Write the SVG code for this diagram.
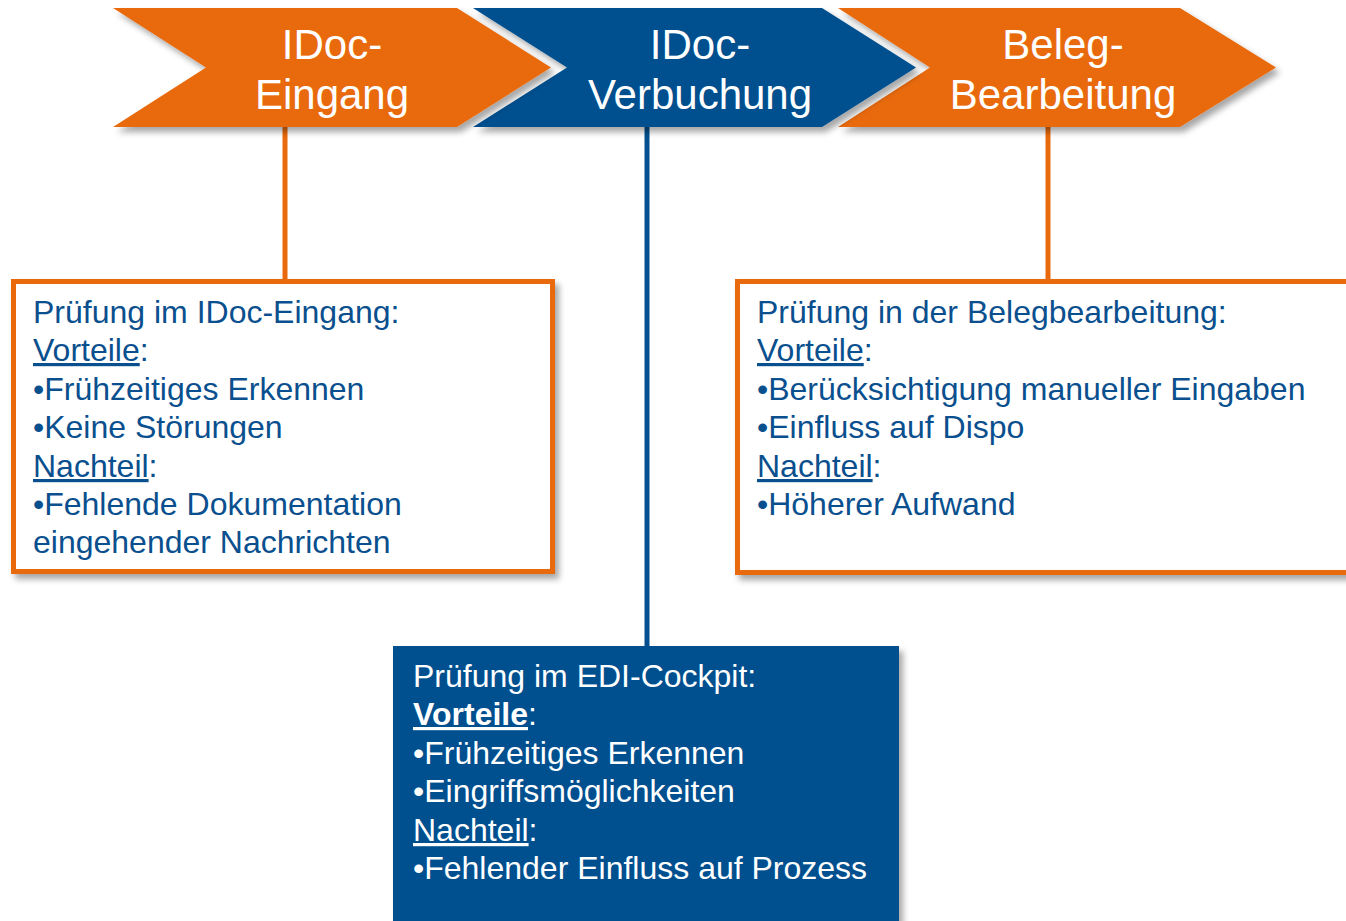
<svg xmlns="http://www.w3.org/2000/svg" width="1346" height="921" viewBox="0 0 1346 921">
<defs>
<filter id="sh" x="-10%" y="-10%" width="130%" height="140%">
<feDropShadow dx="4" dy="5" stdDeviation="3" flood-color="#000" flood-opacity="0.35"/>
</filter>
<style>
.orange{fill:#E96A0C}
.blue{fill:#02508F}
.title{font-family:"Liberation Sans",Arial,sans-serif;font-size:42px;fill:#fff;text-anchor:middle}
.body{font-family:"Liberation Sans",Arial,sans-serif;font-size:32px;fill:#0A4F8E}
.bodyw{font-family:"Liberation Sans",Arial,sans-serif;font-size:32px;fill:#fff}
.u{text-decoration:underline}
.conn{stroke-width:5;fill:none}
</style>
</defs>
<rect width="1346" height="921" fill="#fff"/>
<g id="connectors">
<line class="conn" x1="285" y1="120" x2="285" y2="283" stroke="#E96A0C"/>
<line class="conn" x1="647" y1="120" x2="647" y2="648" stroke="#02508F"/>
<line class="conn" x1="1048" y1="120" x2="1048" y2="283" stroke="#E96A0C"/>
</g>
<g id="chevron-beleg">
<polygon class="orange" filter="url(#sh)" points="838,8 1180,8 1276,67.5 1180,127 838,127 930,67.5"/>
<text class="title" x="1063" y="59">Beleg-</text>
<text class="title" x="1063" y="109">Bearbeitung</text>
</g>
<g id="chevron-verbuchung">
<polygon class="blue" filter="url(#sh)" points="473,8 822,8 916,67.5 822,127 473,127 567,67.5"/>
<text class="title" x="700" y="59">IDoc-</text>
<text class="title" x="700" y="109">Verbuchung</text>
</g>
<g id="chevron-eingang">
<polygon class="orange" filter="url(#sh)" points="113,8 457,8 551,67.5 457,127 113,127 206,67.5"/>
<text class="title" x="332" y="59">IDoc-</text>
<text class="title" x="332" y="109">Eingang</text>
</g>
<g id="box-eingang">
<rect x="13.5" y="281.5" width="539" height="290" fill="#fff" stroke="#E96A0C" stroke-width="5" filter="url(#sh)"/>
<text class="body" x="33" y="323">Prüfung im IDoc-Eingang:</text>
<text class="body" x="33" y="361"><tspan class="u">Vorteile</tspan>:</text>
<text class="body" x="33" y="400">•Frühzeitiges Erkennen</text>
<text class="body" x="33" y="438">•Keine Störungen</text>
<text class="body" x="33" y="477"><tspan class="u">Nachteil</tspan>:</text>
<text class="body" x="33" y="515">•Fehlende Dokumentation</text>
<text class="body" x="33" y="553">eingehender Nachrichten</text>
</g>
<g id="box-beleg">
<rect x="737.5" y="281.5" width="640" height="291" fill="#fff" stroke="#E96A0C" stroke-width="5" filter="url(#sh)"/>
<text class="body" x="757" y="323">Prüfung in der Belegbearbeitung:</text>
<text class="body" x="757" y="361"><tspan class="u">Vorteile</tspan>:</text>
<text class="body" x="757" y="400">•Berücksichtigung manueller Eingaben</text>
<text class="body" x="757" y="438">•Einfluss auf Dispo</text>
<text class="body" x="757" y="477"><tspan class="u">Nachteil</tspan>:</text>
<text class="body" x="757" y="515">•Höherer Aufwand</text>
</g>
<g id="box-cockpit">
<rect x="393" y="646" width="506" height="300" class="blue" filter="url(#sh)"/>
<text class="bodyw" x="413" y="687">Prüfung im EDI-Cockpit:</text>
<text class="bodyw" x="413" y="725"><tspan class="u" font-weight="bold">Vorteile</tspan>:</text>
<text class="bodyw" x="413" y="764">•Frühzeitiges Erkennen</text>
<text class="bodyw" x="413" y="802">•Eingriffsmöglichkeiten</text>
<text class="bodyw" x="413" y="841"><tspan class="u">Nachteil</tspan>:</text>
<text class="bodyw" x="413" y="879">•Fehlender Einfluss auf Prozess</text>
</g>
</svg>
